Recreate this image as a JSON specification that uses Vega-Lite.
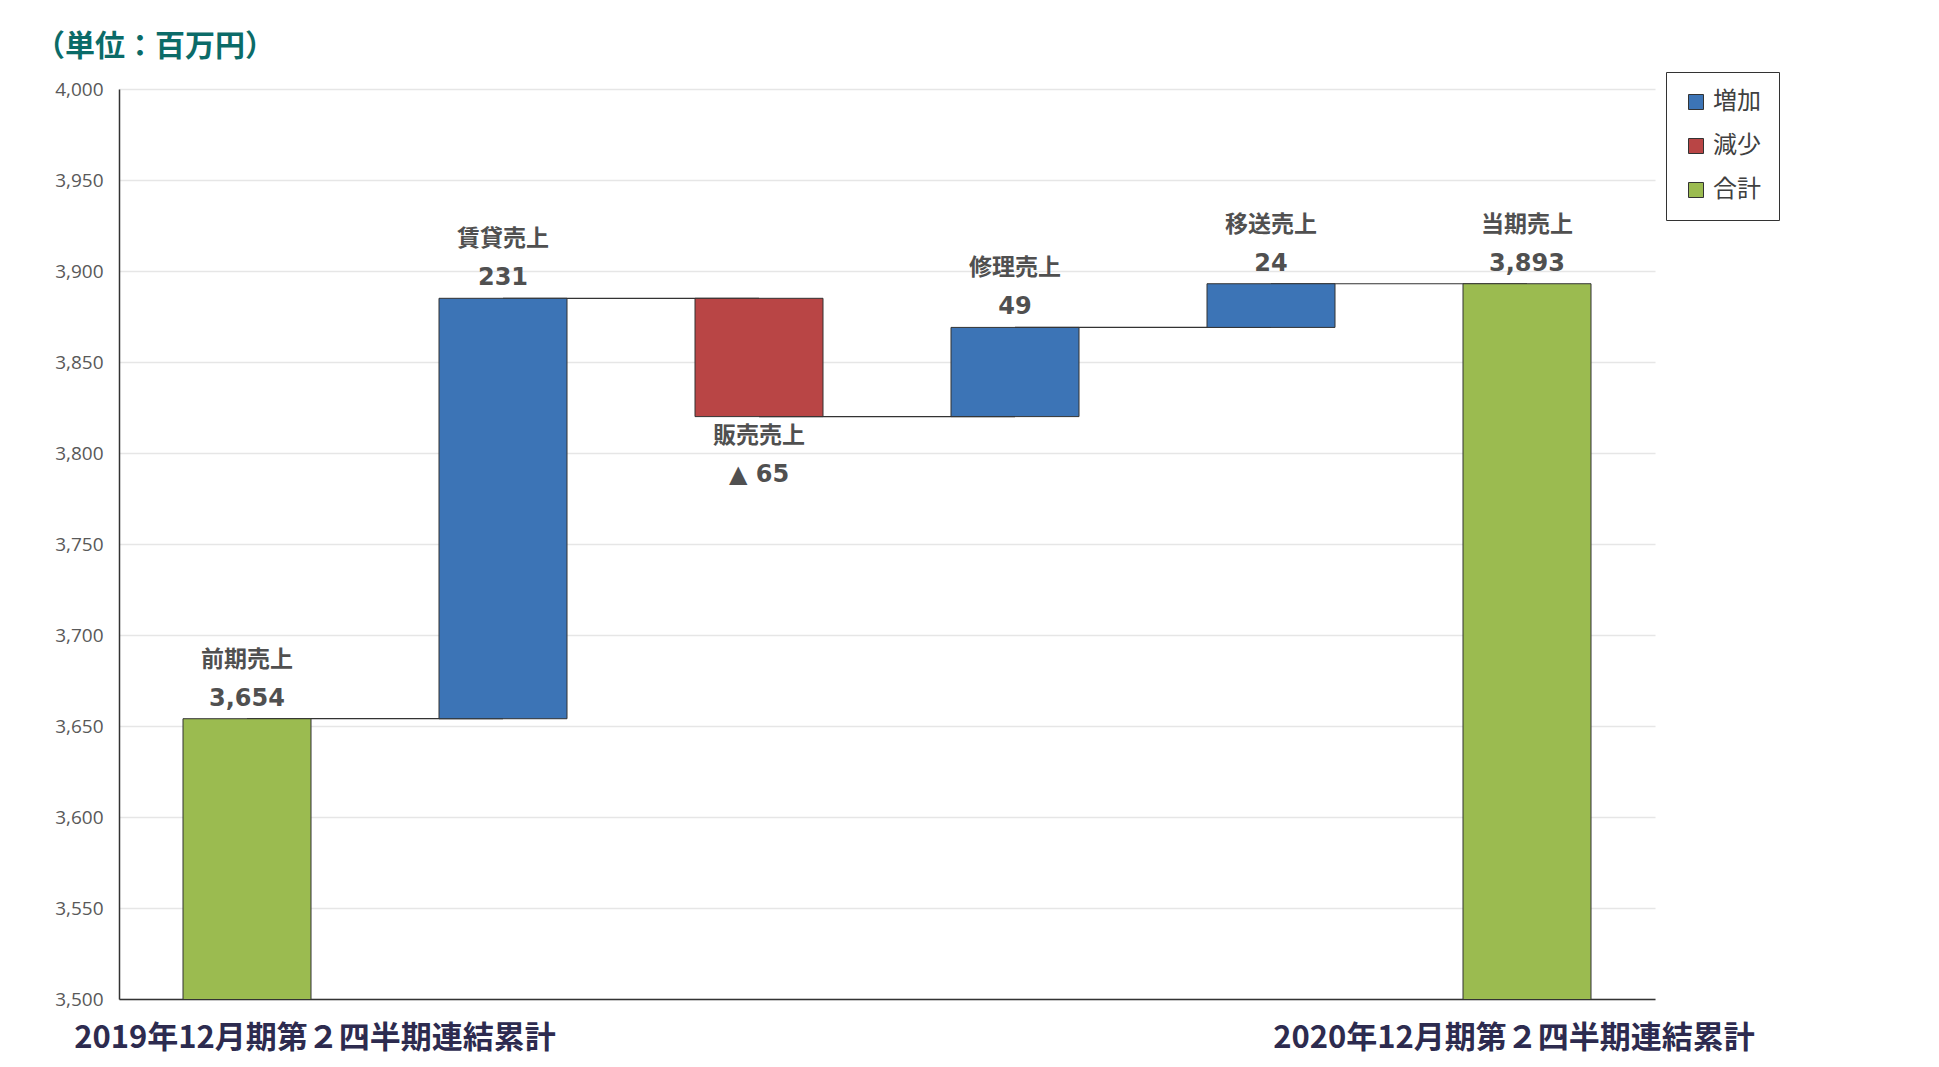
{
  "$schema": "https://vega.github.io/schema/vega-lite/v6.json",
  "width": 1536,
  "height": 910,
  "autosize": {"type": "none"},
  "padding": {"left": 119, "top": 89, "right": 284, "bottom": 68},
  "background": "white",
  "title": {
    "text": "（単位：百万円）",
    "anchor": "start",
    "frame": "group",
    "dx": -84,
    "offset": 10,
    "font": "Noto Sans CJK JP",
    "fontSize": 30,
    "fontWeight": "bold",
    "color": "#0B6B68"
  },
  "config": {"view": {"stroke": null}},
  "data": {
    "values": [
      {"cat": "前期売上", "type": "合計", "start": 0, "end": 3654, "label": "3,654", "next": "賃貸売上", "period": "2019年12月期第２四半期連結累計", "side": "left"},
      {"cat": "賃貸売上", "type": "増加", "start": 3654, "end": 3885, "label": "231", "next": "販売売上"},
      {"cat": "販売売上", "type": "減少", "start": 3885, "end": 3820, "label": "▲ 65", "next": "修理売上"},
      {"cat": "修理売上", "type": "増加", "start": 3820, "end": 3869, "label": "49", "next": "移送売上"},
      {"cat": "移送売上", "type": "増加", "start": 3869, "end": 3893, "label": "24", "next": "当期売上"},
      {"cat": "当期売上", "type": "合計", "start": 0, "end": 3893, "label": "3,893", "period": "2020年12月期第２四半期連結累計", "side": "right"}
    ]
  },
  "encoding": {
    "x": {
      "field": "cat",
      "type": "nominal",
      "scale": {
        "type": "band",
        "domain": ["前期売上", "賃貸売上", "販売売上", "修理売上", "移送売上", "当期売上"],
        "paddingInner": 0.5,
        "paddingOuter": 0.25
      },
      "axis": {"title": null, "labels": false, "ticks": false, "grid": false, "domain": true, "domainColor": "#333333", "domainWidth": 1.5}
    }
  },
  "layer": [
    {
      "transform": [{"filter": "datum.next != null"}],
      "mark": {"type": "rule", "color": "#333333", "strokeWidth": 1.2},
      "encoding": {
        "x2": {"field": "next"},
        "y": {"field": "end", "type": "quantitative"}
      }
    },
    {
      "mark": {"type": "bar", "stroke": "#333333", "strokeWidth": 1, "clip": true},
      "encoding": {
        "y": {
          "field": "start",
          "type": "quantitative",
          "scale": {"domain": [3500, 4000], "zero": false, "nice": false},
          "axis": {
            "title": null,
            "values": [3500, 3550, 3600, 3650, 3700, 3750, 3800, 3850, 3900, 3950, 4000],
            "format": ",.0f",
            "labelFont": "Open Sans",
            "labelFontSize": 19,
            "labelColor": "#595959",
            "ticks": false,
            "labelPadding": 16,
            "domainColor": "#333333",
            "domainWidth": 1.5,
            "gridColor": "#e6e6e6",
            "gridWidth": 1.5
          }
        },
        "y2": {"field": "end"},
        "color": {
          "field": "type",
          "type": "nominal",
          "scale": {"domain": ["増加", "減少", "合計"], "range": ["#3C74B6", "#B94545", "#9BBB50"]},
          "legend": {
            "title": null,
            "orient": "none",
            "legendX": 1547,
            "legendY": -17,
            "strokeColor": "#333333",
            "fillColor": "white",
            "padding": 18,
            "symbolType": "square",
            "symbolSize": 225,
            "symbolStrokeColor": "#333333",
            "symbolStrokeWidth": 1,
            "labelFont": "Noto Sans CJK JP",
            "labelFontSize": 24,
            "labelColor": "#404040",
            "labelOffset": 5,
            "rowPadding": 20
          }
        }
      }
    },
    {
      "transform": [{"filter": "datum.type != '減少'"}],
      "mark": {"type": "text", "font": "Noto Sans CJK JP", "fontWeight": "bold", "fontSize": 23, "color": "#505050", "dy": -59, "baseline": "middle"},
      "encoding": {"y": {"field": "end", "type": "quantitative"}, "text": {"field": "cat"}}
    },
    {
      "transform": [{"filter": "datum.type != '減少'"}],
      "mark": {"type": "text", "font": "DejaVu Sans", "fontWeight": "bold", "fontSize": 24, "color": "#505050", "dy": -20, "baseline": "middle"},
      "encoding": {"y": {"field": "end", "type": "quantitative"}, "text": {"field": "label"}}
    },
    {
      "transform": [{"filter": "datum.type == '減少'"}],
      "mark": {"type": "text", "font": "Noto Sans CJK JP", "fontWeight": "bold", "fontSize": 23, "color": "#505050", "dy": 19, "baseline": "middle"},
      "encoding": {"y": {"field": "end", "type": "quantitative"}, "text": {"field": "cat"}}
    },
    {
      "transform": [{"filter": "datum.type == '減少'"}],
      "mark": {"type": "text", "font": "DejaVu Sans", "fontWeight": "bold", "fontSize": 24, "color": "#505050", "dy": 58, "baseline": "middle"},
      "encoding": {"y": {"field": "end", "type": "quantitative"}, "text": {"field": "label"}}
    },
    {
      "transform": [{"filter": "datum.side == 'left'"}],
      "mark": {"type": "text", "font": "Noto Sans CJK JP", "fontWeight": "bold", "fontSize": 31, "color": "#2D2B4F", "dx": 68, "dy": 40, "baseline": "middle"},
      "encoding": {"y": {"datum": 3500, "type": "quantitative"}, "text": {"field": "period"}}
    },
    {
      "transform": [{"filter": "datum.side == 'right'"}],
      "mark": {"type": "text", "font": "Noto Sans CJK JP", "fontWeight": "bold", "fontSize": 31, "color": "#2D2B4F", "dx": -13, "dy": 40, "baseline": "middle"},
      "encoding": {"y": {"datum": 3500, "type": "quantitative"}, "text": {"field": "period"}}
    }
  ]
}
